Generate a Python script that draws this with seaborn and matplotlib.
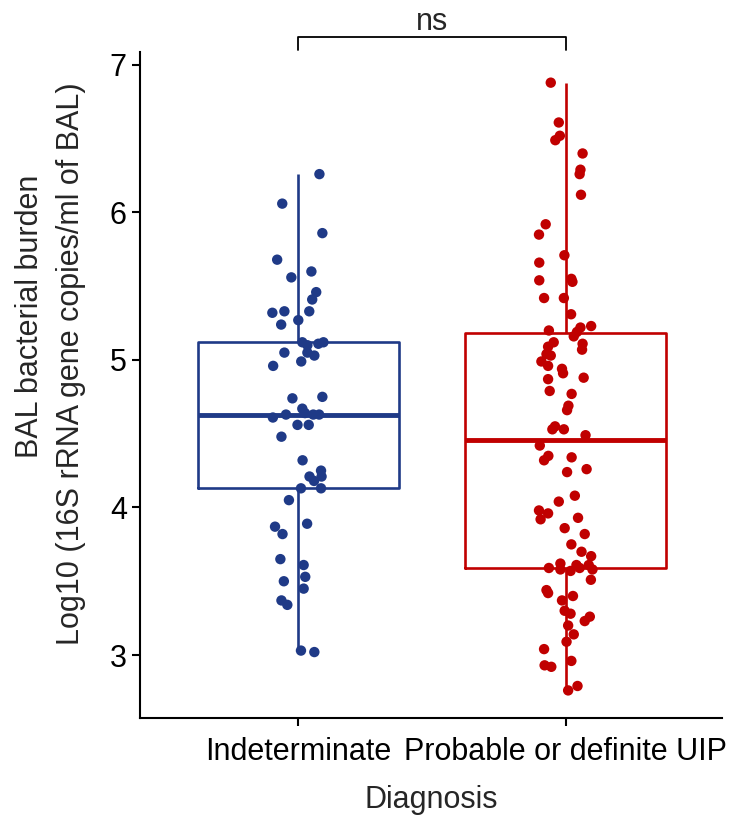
import numpy as np
import pandas as pd
import matplotlib
matplotlib.use("Agg")
import matplotlib.pyplot as plt
import seaborn as sns

# Values (log10 16S rRNA copies/ml of BAL)
groups = ["Indeterminate", "Probable or definite UIP"]
colors = ["#1f3a87", "#c00000"]

indeterminate = [
    6.26, 6.06, 5.86, 5.68, 5.56, 5.60, 5.46, 5.41, 5.32, 5.33, 5.33, 5.24,
    5.27, 5.12, 5.10, 5.11, 5.12, 5.05, 5.05, 5.03, 4.99, 4.96, 4.74, 4.75,
    4.67, 4.61, 4.63, 4.64, 4.63, 4.63, 4.56, 4.56, 4.48, 4.32, 4.25, 4.21,
    4.21, 4.18, 4.13, 4.13, 4.05, 3.87, 3.82, 3.89, 3.65, 3.61, 3.50, 3.53,
    3.45, 3.37, 3.34, 3.03, 3.02,
]
indeterminate_jitter = [
    0.079, -0.060, 0.090, -0.079, -0.026, 0.049, 0.067, 0.052, -0.097, -0.052,
    0.041, -0.064, 0.000, 0.015, 0.034, 0.075, 0.094, -0.052, 0.034, 0.060,
    0.011, -0.094, -0.022, 0.090, 0.015, -0.095, -0.046, 0.025, 0.056, 0.078,
    -0.003, 0.039, -0.063, 0.016, 0.085, 0.042, 0.087, 0.059, 0.010, 0.085,
    -0.035, -0.087, -0.059, 0.033, -0.067, 0.020, -0.054, 0.026, 0.020, -0.063,
    -0.041, 0.010, 0.060,
]

uip = [
    6.88, 6.61, 6.52, 6.49, 6.40, 6.29, 6.26, 6.12, 5.92, 5.85, 5.71, 5.66,
    5.54, 5.55, 5.53, 5.42, 5.42, 5.31, 5.20, 5.22, 5.23, 5.19, 5.16, 5.12,
    5.09, 5.11, 5.07, 5.04, 5.03, 4.99, 4.96, 4.94, 4.91, 4.87, 4.88, 4.79,
    4.77, 4.69, 4.66, 4.55, 4.53, 4.53, 4.49, 4.42, 4.35, 4.32, 4.34, 4.24,
    4.26, 4.08, 4.04, 3.98, 3.96, 3.92, 3.93, 3.86, 3.82, 3.75, 3.70, 3.67,
    3.59, 3.62, 3.58, 3.57, 3.61, 3.59, 3.61, 3.58, 3.51, 3.44, 3.42, 3.37,
    3.40, 3.30, 3.28, 3.23, 3.26, 3.20, 3.14, 3.09, 3.04, 2.93, 2.92, 2.96,
    2.76, 2.79,
]
uip_jitter = [
    -0.056, -0.026, -0.022, -0.039, 0.063, 0.055, 0.052, 0.057, -0.075, -0.100,
    -0.005, -0.099, -0.099, 0.021, 0.025, -0.081, -0.007, 0.020, -0.063, 0.055,
    0.095, 0.042, 0.030, -0.045, -0.066, 0.063, 0.061, -0.072, -0.056, -0.091,
    -0.066, -0.014, -0.010, -0.066, 0.067, -0.060, 0.022, 0.010, 0.005, -0.040,
    -0.050, -0.007, 0.074, -0.097, -0.065, -0.081, 0.022, 0.005, 0.078, 0.034,
    -0.026, -0.100, -0.066, -0.094, 0.046, -0.004, 0.071, 0.021, 0.059, 0.095,
    -0.063, -0.020, -0.020, 0.018, 0.040, 0.052, 0.086, 0.100, 0.094, -0.072,
    -0.066, -0.014, 0.027, -0.004, 0.018, 0.071, 0.090, 0.009, 0.030, 0.003,
    -0.081, -0.079, -0.054, 0.021, 0.009, 0.044,
]

ns_label = "ns"
ylabel_lines = ["BAL bacterial burden", "Log10 (16S rRNA gene copies/ml of BAL)"]

df = pd.DataFrame({
    "Diagnosis": [groups[0]] * len(indeterminate) + [groups[1]] * len(uip),
    "burden": indeterminate + uip,
    "jitter": indeterminate_jitter + uip_jitter,
})
df["xpos"] = df["Diagnosis"].map({g: i for i, g in enumerate(groups)}) + df["jitter"]
palette = dict(zip(groups, colors))

sns.set_style("ticks")
plt.rcParams["font.family"] = ["Liberation Sans", "DejaVu Sans"]

fig = plt.figure(figsize=(7.39, 8.16), dpi=100)
ax = fig.add_axes([0.1894, 0.1201, 0.7875, 0.8162])

sns.boxplot(data=df, x="Diagnosis", y="burden", hue="Diagnosis", order=groups,
            hue_order=groups, palette=palette, fill=False, whis=np.inf,
            width=0.75, linewidth=1.9, showcaps=False, legend=False,
            medianprops={"linewidth": 3.5}, ax=ax)
sns.scatterplot(data=df, x="xpos", y="burden", hue="Diagnosis", hue_order=groups,
                palette=palette, s=56, linewidth=0, legend=False, zorder=5, ax=ax)

# significance bracket above the plot
ax.plot([0, 0, 1, 1], [7.10, 7.19, 7.19, 7.10], color="black", lw=1.3, clip_on=False)
ax.text(0.5, 7.24, ns_label, ha="center", va="baseline", fontsize=22)

ax.set_xlim(-0.592, 1.584)
ax.set_ylim(2.573, 7.088)
ax.set_yticks([3, 4, 5, 6, 7])
ax.set_xticks([0, 1])
ax.set_xticklabels(groups)
ax.tick_params(axis="both", labelsize=22, width=1.5, length=6, color="black",
               labelcolor="black")
ax.tick_params(axis="x", pad=8)
for side in ["left", "bottom"]:
    ax.spines[side].set_linewidth(1.5)
    ax.spines[side].set_color("black")
sns.despine(ax=ax)

ax.set_xlabel("Diagnosis", fontsize=22, labelpad=13)
ax.set_ylabel("")
# the two y-label lines are not centred on each other in the original
fig.text(30 / 739, 1 - 316 / 816, ylabel_lines[0], rotation=90, ha="center",
         va="center", fontsize=22)
fig.text(71 / 739, 1 - 364 / 816, ylabel_lines[1], rotation=90, ha="center",
         va="center", fontsize=22)

fig.savefig("out.png", dpi=100)
